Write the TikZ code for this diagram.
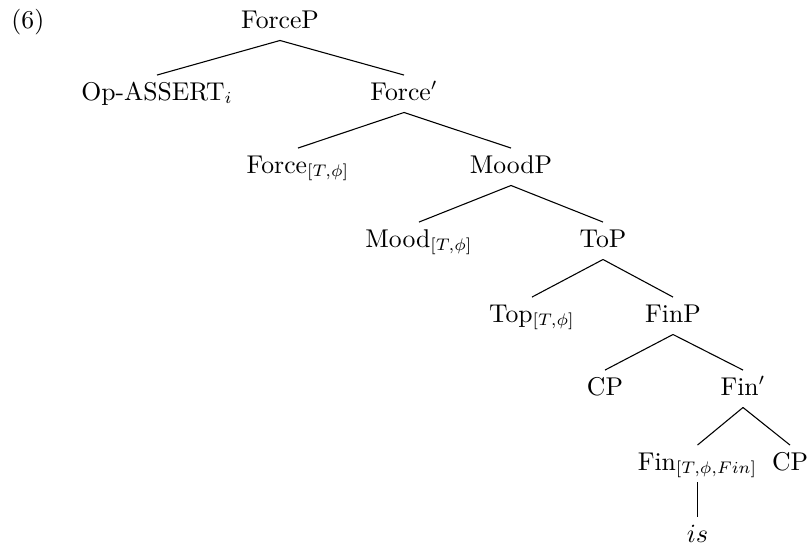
\documentclass[tikz,border=0pt]{standalone}
\begin{document}
\begin{tikzpicture}[x=0.41667pt,y=-0.41667pt,
  font=\fontsize{10.7pt}{13pt}\selectfont,
  lab/.style={anchor=base,inner sep=2.7pt,text height=7.5pt,text depth=2.3pt},
  edge/.style={draw,line width=0.45pt}]
\useasboundingbox (0,0) rectangle (808,547);
\node[anchor=base west,inner sep=0pt] (ex) at (11,28.5) {(6)};
\node[lab] (forcep) at (280,28) {ForceP};
\node[lab] (opa) at (157,100) {Op-ASSERT$_i$};
\node[lab] (forcebar) at (404,100) {Force$'$};
\node[lab] (force) at (298,173) {Force$_{[T,\phi]}$};
\node[lab] (moodp) at (511,173) {MoodP};
\node[lab] (mood) at (419,247) {Mood$_{[T,\phi]}$};
\node[lab] (top) at (603,247) {ToP};
\node[lab] (topx) at (532,322) {Top$_{[T,\phi]}$};
\node[lab] (finp) at (673,322) {FinP};
\node[lab] (cp) at (605,395) {CP};
\node[lab] (finbar) at (743,395) {Fin$'$};
\node[lab] (fin) at (697.5,470) {Fin$_{[T,\phi,Fin]}$};
\node[lab] (cp2) at (790,470) {CP};
\node[lab] (is) at (697.5,542) {$is$};
\draw[edge] (forcep.south) -- (opa.north);
\draw[edge] (forcep.south) -- (forcebar.north);
\draw[edge] (forcebar.south) -- (force.north);
\draw[edge] (forcebar.south) -- (moodp.north);
\draw[edge] (moodp.south) -- (mood.north);
\draw[edge] (moodp.south) -- (top.north);
\draw[edge] (top.south) -- (topx.north);
\draw[edge] (top.south) -- (finp.north);
\draw[edge] (finp.south) -- (cp.north);
\draw[edge] (finp.south) -- (finbar.north);
\draw[edge] (finbar.south) -- (fin.north);
\draw[edge] (finbar.south) -- (cp2.north);
\draw[edge] (fin.south) -- (is.north);
\end{tikzpicture}
\end{document}
